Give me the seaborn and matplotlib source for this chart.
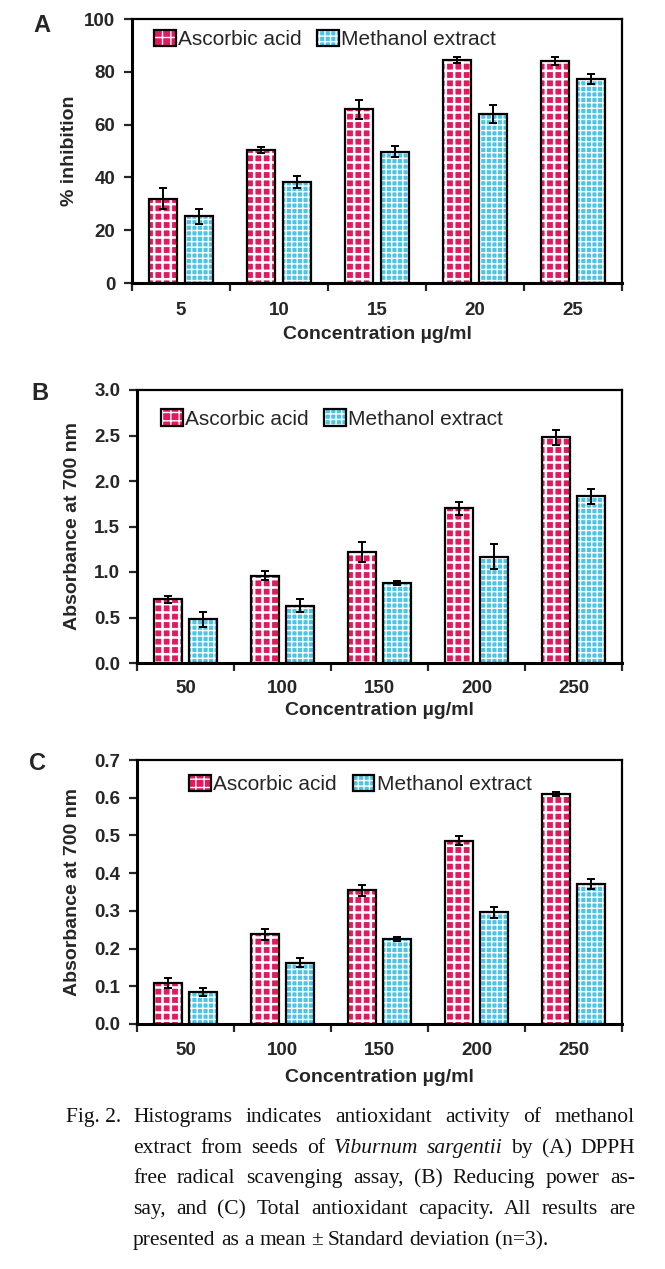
import numpy as np
import pandas as pd
import seaborn as sns
import matplotlib.pyplot as plt
from matplotlib.patches import Patch, Rectangle
from matplotlib.legend_handler import HandlerTuple

# ---- data ----
groups = ['Ascorbic acid', 'Methanol extract']

conc_a = ['5', '10', '15', '20', '25']
asc_a = [32.0, 50.4, 65.8, 84.5, 84.2]
asc_a_sd = [4.0, 1.3, 3.5, 1.0, 1.5]
meth_a = [25.2, 38.2, 49.8, 63.9, 77.2]
meth_a_sd = [3.0, 2.3, 2.0, 3.4, 1.8]
yticks_a = [0, 20, 40, 60, 80, 100]

conc_bc = ['50', '100', '150', '200', '250']
asc_b = [0.70, 0.96, 1.22, 1.70, 2.48]
asc_b_sd = [0.04, 0.05, 0.11, 0.07, 0.08]
meth_b = [0.48, 0.63, 0.88, 1.17, 1.83]
meth_b_sd = [0.08, 0.07, 0.02, 0.14, 0.08]
yticks_b = [0.0, 0.5, 1.0, 1.5, 2.0, 2.5, 3.0]

asc_c = [0.108, 0.238, 0.354, 0.486, 0.610]
asc_c_sd = [0.013, 0.014, 0.014, 0.012, 0.005]
meth_c = [0.085, 0.163, 0.225, 0.296, 0.371]
meth_c_sd = [0.011, 0.011, 0.005, 0.015, 0.013]
yticks_c = [0.0, 0.1, 0.2, 0.3, 0.4, 0.5, 0.6, 0.7]

cap_lead = 'Fig. 2.'
caption_lines = [
    'Histograms indicates antioxidant activity of methanol',
    'extract from seeds of Viburnum sargentii by (A) DPPH',
    'free radical scavenging assay, (B) Reducing power as-',
    'say, and (C) Total antioxidant capacity. All results are',
    'presented as a mean \u00b1 Standard deviation (n=3).',
]
italic_words = {'Viburnum', 'sargentii'}

# ---- style ----
colors = ['#e2195f', '#4cc4e6']
hatches = ['++', '+++']
hatch_lws = [1.8, 1.0]

sns.set_theme(style='ticks')
plt.rcParams['font.family'] = ['Liberation Sans', 'DejaVu Sans']


def style_bar(p, i):
    p.set_facecolor(colors[i])
    p.set_hatch(hatches[i])
    p.set_edgecolor('white')
    p.set_linewidth(0)
    if hasattr(p, 'set_hatch_linewidth'):
        p.set_hatch_linewidth(hatch_lws[i])


def make_panel(ax, conc, asc, asc_sd, meth, meth_sd, yticks, fmt, ylabel,
               leg_anchor, xpad, lpad, ylab_x):
    df = pd.DataFrame({
        'conc': conc * 2,
        'group': [groups[0]] * len(conc) + [groups[1]] * len(conc),
        'value': asc + meth,
    })
    sds = [asc_sd, meth_sd]
    sns.barplot(data=df, x='conc', y='value', hue='group', order=conc,
                hue_order=groups, palette=colors, width=0.72, gap=0.21,
                errorbar=None, legend=False, ax=ax)
    bar_conts = list(ax.containers)
    for i, cont in enumerate(bar_conts):
        xs, hs = [], []
        for p in cont.patches:
            style_bar(p, i)
            ax.add_patch(Rectangle(p.get_xy(), p.get_width(), p.get_height(),
                                   fill=False, ec='black', lw=1.6, zorder=3))
            xs.append(p.get_x() + p.get_width() / 2)
            hs.append(p.get_height())
        ax.errorbar(xs, hs, yerr=sds[i], fmt='none', ecolor='black',
                    elinewidth=1.4, capsize=3, capthick=1.4, zorder=4)

    ax.set_xlim(-0.5, len(conc) - 0.5)
    ax.set_ylim(yticks[0], yticks[-1])
    ax.set_yticks(yticks)
    ax.set_yticklabels([fmt.format(v) for v in yticks])
    ax.set_xticks(np.arange(-0.5, len(conc), 1), minor=True)
    ax.tick_params(axis='x', which='major', length=0, pad=xpad)
    ax.tick_params(axis='x', which='minor', length=6, width=1.6, direction='out')
    ax.tick_params(axis='y', length=6, width=1.6, direction='out', pad=6)
    for lab in ax.get_xticklabels() + ax.get_yticklabels():
        lab.set_fontweight('bold')
        lab.set_fontsize(13.5)
    for side in ['left', 'bottom']:
        ax.spines[side].set_linewidth(2.2)
        ax.spines[side].set_color('black')
    for side in ['top', 'right']:
        ax.spines[side].set_visible(True)
        ax.spines[side].set_linewidth(1.6)
        ax.spines[side].set_color('black')

    ax.set_xlabel('Concentration \u00b5g/ml', fontsize=14, fontweight='bold',
                  labelpad=lpad)
    ax.set_ylabel(ylabel, fontsize=14, fontweight='bold')
    ax.yaxis.set_label_coords(ylab_x, 0.5)

    handles = []
    for i in range(2):
        h = Patch(facecolor=colors[i], hatch=hatches[i], edgecolor='white', lw=0)
        if hasattr(h, 'set_hatch_linewidth'):
            h.set_hatch_linewidth(hatch_lws[i])
        handles.append((h, Patch(fill=False, edgecolor='black', lw=1.6)))
    ax.legend(handles, groups, handler_map={tuple: HandlerTuple(ndivide=1)},
              loc='upper left', bbox_to_anchor=leg_anchor, ncol=2,
              frameon=False, borderpad=0, borderaxespad=0,
              handlelength=1.05, handleheight=0.85, handletextpad=0.1,
              columnspacing=0.75, prop={'size': 15})


fig = plt.figure(figsize=(6.65, 12.69), dpi=100)
W, H = 665, 1269

ax_a = fig.add_axes([132 / W, 1 - 283 / H, 490 / W, 264 / H])
ax_b = fig.add_axes([137 / W, 1 - 663 / H, 485 / W, 273 / H])
ax_c = fig.add_axes([137 / W, 1 - 1024 / H, 485 / W, 264 / H])

make_panel(ax_a, conc_a, asc_a, asc_a_sd, meth_a, meth_a_sd, yticks_a,
           '{:.0f}', '% inhibition', (0.045, 0.96), 14, 5, -0.11)
make_panel(ax_b, conc_bc, asc_b, asc_b_sd, meth_b, meth_b_sd, yticks_b,
           '{:.1f}', 'Absorbance at 700 nm', (0.05, 0.93), 12, 4, -0.115)
make_panel(ax_c, conc_bc, asc_c, asc_c_sd, meth_c, meth_c_sd, yticks_c,
           '{:.1f}', 'Absorbance at 700 nm', (0.108, 0.945), 13, 7, -0.115)

for letter, (px, py) in zip('ABC', [(42, 25), (40, 394), (38, 764)]):
    fig.text(px / W, 1 - py / H, letter, fontsize=17, fontweight='bold',
             ha='center', va='center')

# ---- caption, justified word by word ----
renderer = fig.canvas.get_renderer()
serif = dict(family=['Liberation Serif', 'DejaVu Serif'], fontsize=15.5,
             va='baseline', color='#111111')
x_left, x_right = 133, 635
baselines = [1122, 1153, 1183, 1214, 1245]
fig.text(66 / W, 1 - baselines[0] / H, cap_lead, **serif)
probe = fig.text(0, 0, 'a a', **serif)
probe2 = fig.text(0, 0, 'aa', **serif)
space_w = probe.get_window_extent(renderer).width - probe2.get_window_extent(renderer).width
probe.remove()
probe2.remove()
for k, (line, yb) in enumerate(zip(caption_lines, baselines)):
    words = line.split()
    texts = [fig.text(0, 1 - yb / H, w,
                      fontstyle='italic' if w in italic_words else 'normal',
                      **serif) for w in words]
    widths = [t.get_window_extent(renderer).width for t in texts]
    if k < len(caption_lines) - 1:
        gap = (x_right - x_left - sum(widths)) / (len(words) - 1)
    else:
        gap = space_w
    x = x_left
    for t, w in zip(texts, widths):
        t.set_x(x / W)
        x += w + gap

fig.savefig('out.png', dpi=100)
